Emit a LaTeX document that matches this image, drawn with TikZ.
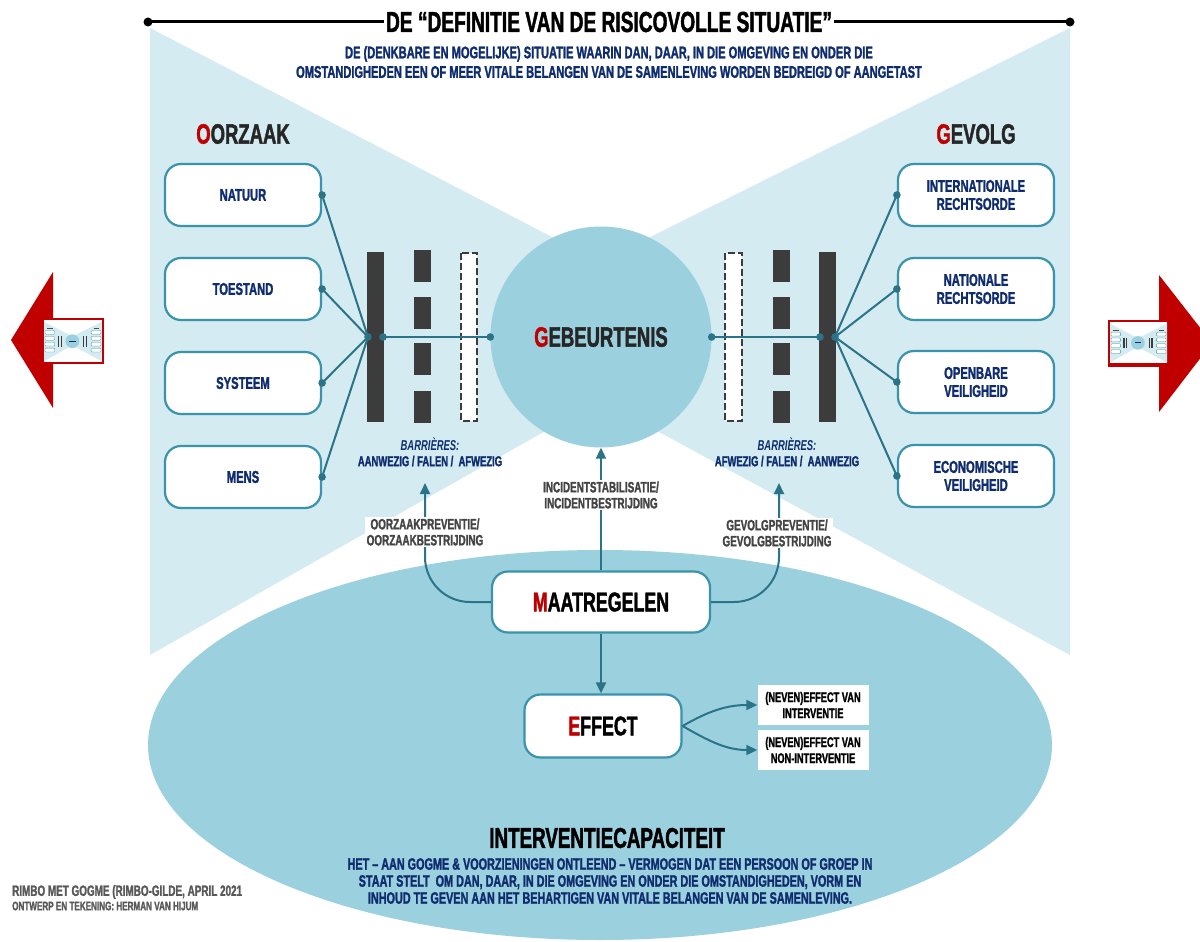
\documentclass[tikz,border=0pt]{standalone}
\usepackage{fontspec}
\setmainfont{Liberation Sans}[FakeStretch=0.66, BoldFeatures={FakeBold=1.5}]
\usepackage{xcolor}
\usepackage{tikz}
\usetikzlibrary{arrows.meta}
\definecolor{BowtieBlue}{HTML}{D3EBF1}
\definecolor{PoolBlue}{HTML}{9BD0DF}
\definecolor{FrameTeal}{HTML}{3A93AB}
\definecolor{LinkTeal}{HTML}{2B7488}
\definecolor{BarGray}{HTML}{3C3C3C}
\definecolor{NavyText}{HTML}{0F2C6E}
\definecolor{LabelGray}{HTML}{444444}
\definecolor{AlertRed}{HTML}{C00000}

\newcommand{\fsz}[2]{\fontsize{#1}{#2}\selectfont\bfseries}

\tikzset{
  factorbox/.style={draw=FrameTeal, line width=2.2pt, fill=white, rounded corners=16pt,
    minimum width=156pt, minimum height=62pt, align=center, text=NavyText, font=\fsz{17}{18}},
  stagebox/.style={draw=FrameTeal, line width=2.2pt, fill=white, rounded corners=16pt,
    text=black, font=\fsz{27}{28}},
  sidebox/.style={fill=white, minimum width=111pt, minimum height=40pt, inner sep=1pt,
    align=center, text=black, font=\fsz{14}{16}},
  flowlabel/.style={fill=white, inner sep=1.5pt, align=center, text=LabelGray, font=\fsz{15}{16}},
  barlabel/.style={align=center, text=NavyText, font=\fsz{14.3}{16}},
  heading/.style={text=black!85, font=\fsz{28}{30}},
  link/.style={draw=LinkTeal, line width=2pt},
  flow/.style={draw=LinkTeal, line width=2pt, -{Triangle[length=11pt,width=10pt]}}
}

% small copy of the diagram, drawn inside a scaled scope
\newcommand{\thumbsketch}{%
  \fill[white] (0,0) rectangle (920,667);
  \fill[BowtieBlue] (0,28) -- (450,262) -- (920,28) -- (920,655) -- (450,400) -- (0,655) -- cycle;
  \fill[PoolBlue] (450,337) circle (110pt);
  \fill[black!70] (45,124) rectangle (140,144);
  \fill[black!70] (787,124) rectangle (866,144);
  \foreach \yy in {195,289,383,477}{
    \filldraw[fill=white, draw=FrameTeal, line width=0.3pt, rounded corners=1pt] (15,\yy-31) rectangle (171,\yy+31);
    \filldraw[fill=white, draw=FrameTeal, line width=0.3pt, rounded corners=1pt] (748,\yy-31) rectangle (904,\yy+31);
  }
  \fill[BarGray] (217,252) rectangle (234,422);
  \fill[BarGray] (264,252) rectangle (281,422);
  \fill[BarGray] (669,252) rectangle (686,422);
  \fill[BarGray] (623,252) rectangle (640,422);
  \fill[NavyText] (400,330) rectangle (500,344);
}

\begin{document}
\begin{tikzpicture}[x=1pt, y=-1pt]
  \useasboundingbox (0,0) rectangle (1200,942);
  \fill[white] (0,0) rectangle (1200,942);

  % bowtie and pools
  \fill[BowtieBlue] (150,28) -- (600,262) -- (1070,28) -- (1070,655) -- (600,400) -- (150,655) -- cycle;
  \fill[PoolBlue] (600,745) ellipse (452pt and 195pt);
  \node[circle, fill=PoolBlue, minimum size=221pt, inner sep=0pt, text=black!85, font=\fsz{28}{30}]
    (event) at (601,337) {\textcolor{AlertRed}{G}EBEURTENIS};

  % title bar
  \coordinate (tleft) at (148,22); \coordinate (tright) at (1070,22);
  \draw[line width=3pt] (tleft) -- (tright);
  \fill (tleft) circle (4.5pt); \fill (tright) circle (4.5pt);
  \node[fill=white, inner xsep=2pt, inner ysep=0pt, font=\fsz{29}{30}] (title) at (609,22)
    {DE “DEFINITIE VAN DE RISICOVOLLE SITUATIE”};
  \node[align=center, text=NavyText, font=\fsz{16.8}{19.5}] (subtitle) at (609,62)
    {DE (DENKBARE EN MOGELIJKE) SITUATIE WAARIN DAN, DAAR, IN DIE OMGEVING EN ONDER DIE\\
     OMSTANDIGHEDEN EEN OF MEER VITALE BELANGEN VAN DE SAMENLEVING WORDEN BEDREIGD OF AANGETAST};

  % headings
  \node[heading] (cause) at (243,134) {\textcolor{AlertRed}{O}ORZAAK};
  \node[heading] (consequence) at (976,134) {\textcolor{AlertRed}{G}EVOLG};

  % causes and consequences
  \node[factorbox] (natuur) at (243,195) {NATUUR};
  \node[factorbox] (toestand) at (243,289) {TOESTAND};
  \node[factorbox] (systeem) at (243,383) {SYSTEEM};
  \node[factorbox] (mens) at (243,477) {MENS};
  \node[factorbox] (intrecht) at (976,195) {INTERNATIONALE\\RECHTSORDE};
  \node[factorbox] (natrecht) at (976,289) {NATIONALE\\RECHTSORDE};
  \node[factorbox] (openbaar) at (976,382) {OPENBARE\\VEILIGHEID};
  \node[factorbox] (econ) at (976,476) {ECONOMISCHE\\VEILIGHEID};

  % barriers
  \fill[BarGray] (367,252) rectangle (384,422);
  \foreach \top in {250,297,343,391}
    \fill[BarGray] (414,\top) rectangle +(17,32);
  \draw[BarGray, dash pattern=on 7pt off 3pt, fill=white, line width=1.4pt] (461,253) rectangle (477,421);
  \fill[BarGray] (819,252) rectangle (836,422);
  \foreach \top in {250,297,343,391}
    \fill[BarGray] (773,\top) rectangle +(17,32);
  \draw[BarGray, dash pattern=on 7pt off 3pt, fill=white, line width=1.4pt] (725,253) rectangle (742,421);

  % links to the barriers
  \coordinate (lhub) at (368,337); \coordinate (lbar) at (383,337);
  \coordinate (rhub) at (835,337); \coordinate (rbar) at (820,337);
  \foreach \src in {natuur,toestand,systeem,mens}{
    \draw[link] (\src.east) -- (lhub);
    \fill[LinkTeal] (\src.east) circle (3.8pt);
  }
  \foreach \dst in {intrecht,natrecht,openbaar,econ}{
    \draw[link] (\dst.west) -- (rhub);
    \fill[LinkTeal] (\dst.west) circle (3.8pt);
  }
  \draw[link] (lbar) -- (event.west);
  \draw[link] (rbar) -- (event.east);
  \foreach \pt in {lhub,lbar,rhub,rbar,event.west,event.east}
    \fill[LinkTeal] (\pt) circle (3.8pt);

  \node[barlabel] (lbarlabel) at (430,452) {\textit{BARRIÈRES:}\\AANWEZIG / FALEN /\ \ AFWEZIG};
  \node[barlabel] (rbarlabel) at (787,452) {\textit{BARRIÈRES:}\\AFWEZIG / FALEN /\ \ AANWEZIG};

  % measures
  \node[stagebox, minimum width=218pt, minimum height=61pt] (maat) at (601,602)
    {\textcolor{AlertRed}{M}AATREGELEN};
  \node[stagebox, minimum width=157pt, minimum height=63pt] (effect) at (603,726)
    {\textcolor{AlertRed}{E}FFECT};

  \coordinate (lprev) at (425,483); \coordinate (rprev) at (779,483);
  \draw[flow, rounded corners=45pt] (maat.west) -| (lprev);
  \draw[flow] (maat.north) -- (event.south);
  \draw[flow, rounded corners=45pt] (maat.east) -| (rprev);
  \draw[flow] (maat.south) -- (maat.south |- effect.north);

  \node[flowlabel] (causelabel) at (425,532) {OORZAAKPREVENTIE/\\OORZAAKBESTRIJDING};
  \node[flowlabel] (incidentlabel) at (601,495) {INCIDENTSTABILISATIE/\\INCIDENTBESTRIJDING};
  \node[flowlabel] (effectlabel) at (777,533) {GEVOLGPREVENTIE/\\GEVOLGBESTRIJDING};

  % side effects
  \node[sidebox] (sideint) at (813,705) {(NEVEN)EFFECT VAN\\INTERVENTIE};
  \node[sidebox] (sidenon) at (813,750) {(NEVEN)EFFECT VAN\\NON-INTERVENTIE};
  \draw[flow] (effect.east) to[out=30, in=180] (sideint.west);
  \draw[flow] (effect.east) to[out=-30, in=180] (sidenon.west);

  % capacity
  \node[text=black, font=\fsz{28.5}{30}] (capacity) at (607,838) {INTERVENTIECAPACITEIT};
  \node[align=center, text=NavyText, font=\fsz{16.4}{17}] (capdef) at (610,881)
    {HET – AAN GOGME \& VOORZIENINGEN ONTLEEND – VERMOGEN DAT EEN PERSOON OF GROEP IN\\
     STAAT STELT\ \ OM DAN, DAAR, IN DIE OMGEVING EN ONDER DIE OMSTANDIGHEDEN, VORM EN\\
     INHOUD TE GEVEN AAN HET BEHARTIGEN VAN VITALE BELANGEN VAN DE SAMENLEVING.};

  % credits
  \node[anchor=west, inner sep=0pt, text=black!65, font=\fsz{15}{16}] (credit) at (12,892)
    {RIMBO MET GOGME (RIMBO-GILDE, APRIL 2021};
  \node[anchor=west, inner sep=0pt, text=black!65, font=\fsz{12.3}{14}] (drawer) at (12,906)
    {ONTWERP EN TEKENING: HERMAN VAN HIJUM};

  % navigation arrows
  \fill[AlertRed] (11,340) -- (53,272) -- (53,408) -- cycle;
  \fill[AlertRed] (42,318) rectangle (104,364);
  \begin{scope}[shift={(44,320)}, scale=0.063]
    \thumbsketch
  \end{scope}
  \fill[AlertRed] (1159,275) -- (1212,343) -- (1159,412) -- cycle;
  \fill[AlertRed] (1108,320) rectangle (1169,367);
  \begin{scope}[shift={(1110,322)}, scale=0.062]
    \thumbsketch
  \end{scope}
\end{tikzpicture}
\end{document}
